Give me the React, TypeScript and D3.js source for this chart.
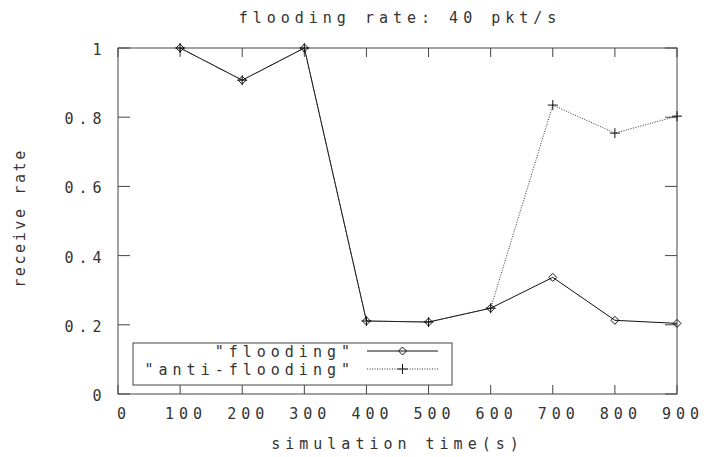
import React from 'react';
import * as d3 from 'd3';

// values
const times = [100, 200, 300, 400, 500, 600, 700, 800, 900];
const flooding = [1.0, 0.907, 1.0, 0.211, 0.208, 0.248, 0.337, 0.213, 0.204];
const antiFlooding = [1.0, 0.907, 1.0, 0.211, 0.208, 0.248, 0.835, 0.754, 0.803];
const xTicks = [0, 100, 200, 300, 400, 500, 600, 700, 800, 900];
const yTicks = [0, 0.2, 0.4, 0.6, 0.8, 1];

const width = 704;
const height = 457;
const plotLeft = 118;
const plotRight = 677;
const plotTop = 48;
const plotBottom = 394;

const font = '"DejaVu Sans Mono", "Liberation Mono", monospace';
const fontSize = 15;
const spacing = 5;
const ink = '#333';

const App = () => {
  const x = d3.scaleLinear().domain([0, 900]).range([plotLeft, plotRight]);
  const y = d3.scaleLinear().domain([0, 1]).range([plotBottom, plotTop]);

  const line = d3
    .line<number>()
    .x((d, i) => x(times[i]))
    .y((d) => y(d));

  const textStyle = { fontFamily: font, fontSize, letterSpacing: spacing, fill: ink };

  const diamond = (cx: number, cy: number, key: string | number) => (
    <path
      key={key}
      d={`M${cx},${cy - 4}L${cx + 4},${cy}L${cx},${cy + 4}L${cx - 4},${cy}Z`}
      fill="none"
      stroke="#111"
      strokeWidth={1}
    />
  );
  const plus = (cx: number, cy: number, key: string | number) => (
    <path
      key={key}
      d={`M${cx - 5},${cy}H${cx + 5}M${cx},${cy - 5}V${cy + 5}`}
      stroke="#111"
      strokeWidth={1}
    />
  );

  // legend box
  const lgLeft = 133;
  const lgTop = 343;
  const lgRight = 452;
  const lgBottom = 385;
  const lgTextRight = 350;
  const lgLineX0 = 367;
  const lgLineX1 = 438;
  const lgRow1 = 351;
  const lgRow2 = 369;

  return (
    <svg
      width={width}
      height={height}
      style={{ position: 'absolute', left: 0, top: 0, background: '#fff' }}
    >
      <rect x={0} y={0} width={width} height={height} fill="#fff" />

      {/* title */}
      <text x={397.5 + spacing / 2} y={23} textAnchor="middle" style={textStyle}>
        flooding rate: 40 pkt/s
      </text>

      {/* ticks (mirrored, inward) */}
      {xTicks.map((t) => (
        <g key={'xt' + t}>
          <line x1={x(t)} x2={x(t)} y1={plotBottom} y2={plotBottom - 9} stroke="#444" />
          <line x1={x(t)} x2={x(t)} y1={plotTop} y2={plotTop + 9} stroke="#444" />
          <text x={x(t) + 3.5 + spacing / 2} y={419} textAnchor="middle" style={textStyle}>
            {t}
          </text>
        </g>
      ))}
      {yTicks.map((t) => (
        <g key={'yt' + t}>
          <line x1={plotLeft} x2={plotLeft + 12} y1={y(t)} y2={y(t)} stroke="#444" />
          <line x1={plotRight} x2={plotRight - 12} y1={y(t)} y2={y(t)} stroke="#444" />
          <text x={101.5 + spacing} y={y(t) + 7} textAnchor="end" style={textStyle}>
            {t === 0 || t === 1 ? String(t) : t.toFixed(1)}
          </text>
        </g>
      ))}

      {/* frame */}
      <rect
        x={plotLeft}
        y={plotTop}
        width={plotRight - plotLeft}
        height={plotBottom - plotTop}
        fill="none"
        stroke="#444"
        strokeWidth={1}
      />

      {/* axis titles */}
      <text x={395 + spacing / 2} y={449} textAnchor="middle" style={textStyle}>
        simulation time(s)
      </text>
      <text
        transform="translate(25, 218) rotate(-90)"
        textAnchor="middle"
        style={{ ...textStyle, letterSpacing: 2.6 }}
      >
        receive rate
      </text>

      {/* series */}
      <path d={line(flooding) || ''} fill="none" stroke="#111" strokeWidth={1} />
      <path
        d={line(antiFlooding) || ''}
        fill="none"
        stroke="#333"
        strokeWidth={1}
        strokeDasharray="1,1.5"
      />
      {flooding.map((v, i) => diamond(x(times[i]), y(v), 'd' + i))}
      {antiFlooding.map((v, i) => plus(x(times[i]), y(v), 'p' + i))}

      {/* legend */}
      <rect
        x={lgLeft}
        y={lgTop}
        width={lgRight - lgLeft}
        height={lgBottom - lgTop}
        fill="#fff"
        stroke="#444"
      />
      <text x={lgTextRight + spacing} y={lgRow1 + 6} textAnchor="end" style={textStyle}>
        "flooding"
      </text>
      <line x1={lgLineX0} x2={lgLineX1} y1={lgRow1} y2={lgRow1} stroke="#111" />
      {diamond((lgLineX0 + lgLineX1) / 2, lgRow1, 'ld')}
      <text x={lgTextRight + spacing} y={lgRow2 + 6} textAnchor="end" style={textStyle}>
        "anti-flooding"
      </text>
      <line
        x1={lgLineX0}
        x2={lgLineX1}
        y1={lgRow2}
        y2={lgRow2}
        stroke="#333"
        strokeDasharray="1,1.5"
      />
      {plus((lgLineX0 + lgLineX1) / 2, lgRow2, 'lp')}
    </svg>
  );
};

export default App;
